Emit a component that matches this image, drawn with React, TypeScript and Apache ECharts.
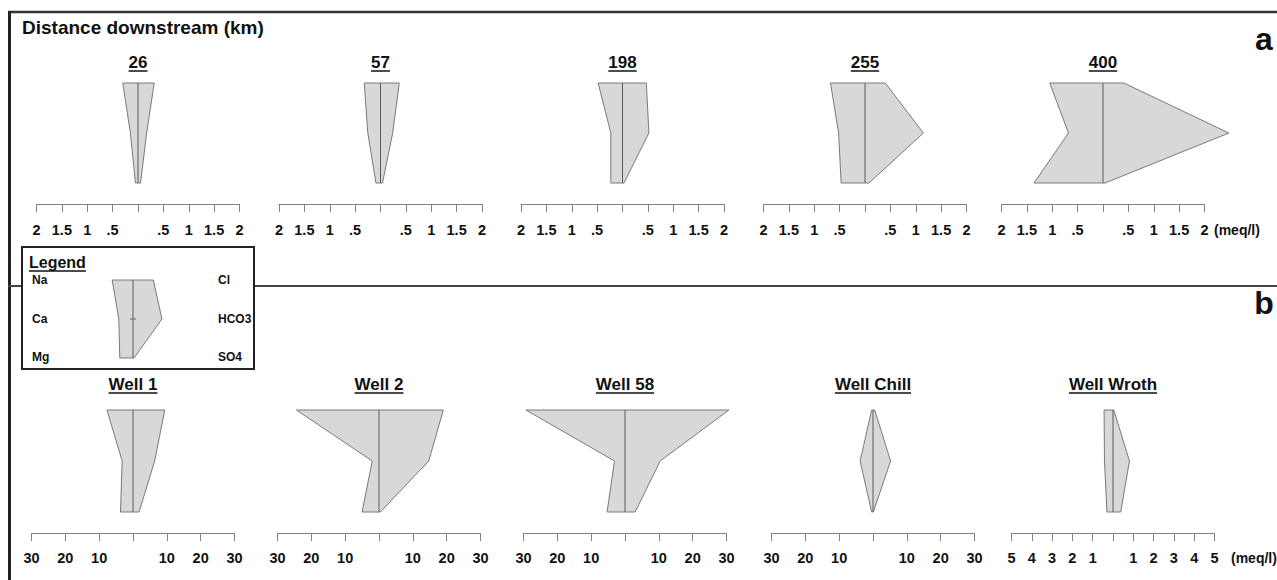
import React, { useEffect, useRef } from "react";
import * as echarts from "echarts";

// ---------- data ----------
const ionOrder = ["Na", "Ca", "Mg", "Cl", "HCO3", "SO4"];

const siteLabels = ["26", "57", "198", "255", "400"];
const siteNa = [0.3, 0.32, 0.48, 0.68, 1.05];
const siteCa = [0.15, 0.25, 0.23, 0.52, 0.68];
const siteMg = [0.05, 0.09, 0.23, 0.47, 1.36];
const siteCl = [0.32, 0.37, 0.47, 0.4, 0.41];
const siteHCO3 = [0.17, 0.24, 0.52, 1.15, 2.48];
const siteSO4 = [0.05, 0.04, 0.03, 0.08, 0.04];
const siteAxisMax = 2;
const siteAxisStep = 0.5;

const wellLabels = ["Well 1", "Well 2", "Well 58", "Well Chill", "Well Wroth"];
const wellNa = [7.7, 24.4, 29.3, 0.4, 0.44];
const wellCa = [3.2, 2.0, 3.1, 3.8, 0.42];
const wellMg = [3.7, 5.0, 5.3, 0.4, 0.3];
const wellCl = [9.4, 19.0, 30.7, 0.5, 0.04];
const wellHCO3 = [6.4, 14.7, 10.4, 5.2, 0.81];
const wellSO4 = [1.8, 0.4, 3.0, 0.1, 0.38];
const wellAxisMax = [30, 30, 30, 30, 5];
const wellAxisStep = [10, 10, 10, 10, 1];

const legendValues = [0.41, 0.28, 0.26, 0.4, 0.57, 0.02]; // Na Ca Mg Cl HCO3 SO4

// ---------- layout ----------
const FONT = '"Liberation Sans", Arial, Helvetica, sans-serif';
const W = 1277;
const H = 580;
const AX_W = 203;
const topCenters = [138, 380.5, 622.5, 865, 1103];
const botCenters = [133, 379, 625, 873, 1113];

function measure(text: string, size: number) {
  const c = document.createElement("canvas").getContext("2d");
  if (!c) return text.length * size * 0.6;
  c.font = `bold ${size}px ${FONT}`;
  return c.measureText(text).width;
}

function makeRender(withMark: boolean) {
  return function (params: any, api: any) {
    const na = api.value(0), ca = api.value(1), mg = api.value(2);
    const cl = api.value(3), hco3 = api.value(4), so4 = api.value(5);
    const pts = [
      api.coord([-na, 0]),
      api.coord([-ca, 1]),
      api.coord([-mg, 2]),
      api.coord([so4, 2]),
      api.coord([hco3, 1]),
      api.coord([cl, 0]),
    ];
    const t = api.coord([0, 0]);
    const b = api.coord([0, 2]);
    const m = api.coord([0, 1]);
    const children: any[] = [
      {
        type: "polygon",
        shape: { points: pts },
        style: { fill: "#d8d8d8", stroke: "#7a7a7a", lineWidth: 1 },
      },
      {
        type: "line",
        shape: { x1: t[0], y1: t[1], x2: b[0], y2: b[1] },
        style: { stroke: "#5a5a5a", lineWidth: 1 },
      },
    ];
    if (withMark) {
      children.push({
        type: "line",
        shape: { x1: m[0] - 3, y1: m[1], x2: m[0] + 3, y2: m[1] },
        style: { stroke: "#666", lineWidth: 1 },
      });
    }
    return { type: "group", children };
  };
}

function fmtSite(v: number) {
  if (v === 0) return "";
  const a = Math.abs(v);
  if (a === 0.5) return ".5";
  return String(a);
}
function fmtWell(v: number) {
  if (v === 0) return "";
  return String(Math.abs(v));
}

export default function App() {
  const ref = useRef<HTMLDivElement>(null);
  useEffect(() => {
    if (!ref.current) return;
    const chart = echarts.init(ref.current, null, { renderer: "svg", width: W, height: H });

    const grids: any[] = [];
    const xAxes: any[] = [];
    const yAxes: any[] = [];
    const series: any[] = [];
    const graphics: any[] = [];

    const axisCommon = (gi: number, max: number, step: number, fmt: (v: number) => string, margin: number) => ({
      gridIndex: gi,
      type: "value",
      min: -max,
      max: max,
      interval: step,
      position: "bottom",
      offset: 21,
      axisLine: { show: true, onZero: false, lineStyle: { color: "#808080", width: 1 } },
      axisTick: { show: true, length: 8, lineStyle: { color: "#808080", width: 1 } },
      axisLabel: {
        show: true,
        margin,
        formatter: fmt,
        color: "#111",
        fontWeight: "bold",
        fontSize: 14.5,
        fontFamily: FONT,
        showMinLabel: true,
        showMaxLabel: true,
      },
      splitLine: { show: false },
    });

    const addTitle = (text: string, cx: number, cy: number, size: number) => {
      const w = measure(text, size);
      graphics.push({
        type: "text",
        x: cx,
        y: cy,
        style: {
          text,
          font: `bold ${size}px ${FONT}`,
          fill: "#111",
          textAlign: "center",
          textVerticalAlign: "middle",
        },
      });
      graphics.push({
        type: "line",
        shape: { x1: cx - w / 2, y1: cy + 9, x2: cx + w / 2, y2: cy + 9 },
        style: { stroke: "#111", lineWidth: 1.5 },
      });
    };

    // panel a
    siteLabels.forEach((lab, i) => {
      const gi = grids.length;
      grids.push({ left: topCenters[i] - AX_W / 2, width: AX_W, top: 83, height: 100 });
      xAxes.push(axisCommon(gi, siteAxisMax, siteAxisStep, fmtSite, 18));
      yAxes.push({ gridIndex: gi, type: "value", min: 0, max: 2, inverse: true, show: false });
      series.push({
        type: "custom",
        name: lab,
        xAxisIndex: gi,
        yAxisIndex: gi,
        renderItem: makeRender(false),
        data: [[siteNa[i], siteCa[i], siteMg[i], siteCl[i], siteHCO3[i], siteSO4[i]]],
        silent: true,
        clip: false,
      });
      addTitle(lab, topCenters[i], 62, 17);
    });

    // panel b
    wellLabels.forEach((lab, i) => {
      const gi = grids.length;
      grids.push({ left: botCenters[i] - AX_W / 2, width: AX_W, top: 410, height: 102 });
      xAxes.push(axisCommon(gi, wellAxisMax[i], wellAxisStep[i], fmtWell, 17));
      yAxes.push({ gridIndex: gi, type: "value", min: 0, max: 2, inverse: true, show: false });
      series.push({
        type: "custom",
        name: lab,
        xAxisIndex: gi,
        yAxisIndex: gi,
        renderItem: makeRender(false),
        data: [[wellNa[i], wellCa[i], wellMg[i], wellCl[i], wellHCO3[i], wellSO4[i]]],
        silent: true,
        clip: false,
      });
      addTitle(lab, botCenters[i], 384, 17);
    });

    // legend grid
    {
      const gi = grids.length;
      grids.push({ left: 133 - AX_W / 2, width: AX_W, top: 280, height: 78 });
      xAxes.push({ gridIndex: gi, type: "value", min: -2, max: 2, show: false });
      yAxes.push({ gridIndex: gi, type: "value", min: 0, max: 2, inverse: true, show: false });
      series.push({
        type: "custom",
        name: "Legend",
        xAxisIndex: gi,
        yAxisIndex: gi,
        renderItem: makeRender(true),
        data: [legendValues],
        silent: true,
        clip: false,
        z: 5,
      });
    }

    // frame lines
    graphics.push({ type: "line", z: 0, shape: { x1: 8, y1: 12, x2: W, y2: 12 }, style: { stroke: "#333", lineWidth: 2.5 } });
    graphics.push({ type: "line", z: 0, shape: { x1: 9.5, y1: 11, x2: 9.5, y2: H }, style: { stroke: "#222", lineWidth: 3 } });
    graphics.push({ type: "line", z: 0, shape: { x1: 8, y1: 286, x2: W, y2: 286 }, style: { stroke: "#444", lineWidth: 2 } });
    // legend box
    graphics.push({ type: "rect", z: 1, shape: { x: 22, y: 247, width: 232, height: 122 }, style: { fill: "#fff", stroke: "#222", lineWidth: 2 } });

    // texts
    graphics.push({ type: "text", z: 3, x: 22, y: 27, style: { text: "Distance downstream (km)", font: `bold 19px ${FONT}`, fill: "#111", textVerticalAlign: "middle" } });
    graphics.push({ type: "text", z: 3, x: 1264, y: 39, style: { text: "a", font: `bold 32px ${FONT}`, fill: "#111", textAlign: "center", textVerticalAlign: "middle" } });
    graphics.push({ type: "text", z: 3, x: 1264, y: 303, style: { text: "b", font: `bold 32px ${FONT}`, fill: "#111", textAlign: "center", textVerticalAlign: "middle" } });
    graphics.push({ type: "text", z: 3, x: 1214, y: 230, style: { text: "(meq/l)", font: `bold 14px ${FONT}`, fill: "#111", textVerticalAlign: "middle" } });
    graphics.push({ type: "text", z: 3, x: 1231, y: 558, style: { text: "(meq/l)", font: `bold 14px ${FONT}`, fill: "#111", textVerticalAlign: "middle" } });

    // legend texts
    const lw = measure("Legend", 16);
    graphics.push({ type: "text", z: 3, x: 29, y: 262, style: { text: "Legend", font: `bold 16px ${FONT}`, fill: "#111", textVerticalAlign: "middle" } });
    graphics.push({ type: "line", z: 3, shape: { x1: 29, y1: 271, x2: 29 + lw, y2: 271 }, style: { stroke: "#111", lineWidth: 1.5 } });
    const rowY = [280, 319, 357];
    ionOrder.forEach((ion, k) => {
      const left = k < 3;
      graphics.push({
        type: "text",
        z: 3,
        x: left ? 32 : 218,
        y: rowY[k % 3],
        style: { text: ion, font: `bold 12px ${FONT}`, fill: "#111", textVerticalAlign: "middle" },
      });
    });

    chart.setOption({
      animation: false,
      backgroundColor: "#fff",
      grid: grids,
      xAxis: xAxes,
      yAxis: yAxes,
      series,
      graphic: { elements: graphics },
    });
    return () => chart.dispose();
  }, []);
  return <div ref={ref} style={{ position: "fixed", left: 0, top: 0, width: W, height: H }} />;
}
